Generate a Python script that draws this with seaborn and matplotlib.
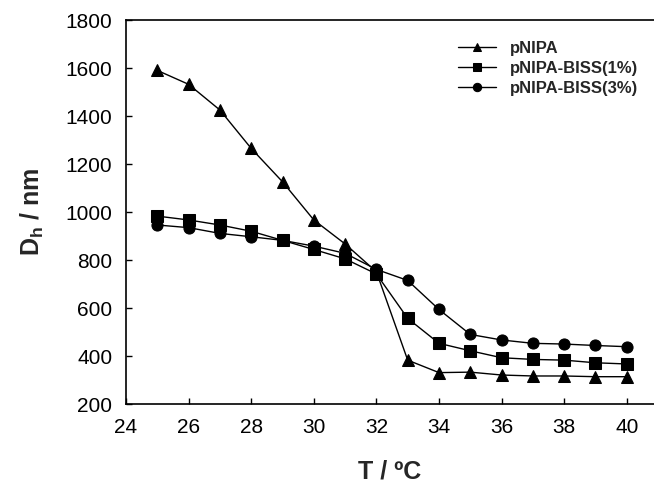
import matplotlib
matplotlib.use('Agg')
import matplotlib.pyplot as plt
import pandas as pd
import seaborn as sns

temps = [25, 26, 27, 28, 29, 30, 31, 32, 33, 34, 35, 36, 37, 38, 39, 40]
pnipa = [1590, 1532, 1425, 1265, 1126, 967, 867, 751, 383, 331, 333, 321, 317, 317, 314, 314]
biss1 = [983, 967, 946, 920, 882, 844, 805, 742, 557, 453, 422, 393, 386, 383, 372, 367]
biss3 = [946, 935, 911, 897, 882, 858, 828, 761, 715, 594, 490, 467, 453, 450, 444, 439]
names = ['pNIPA', 'pNIPA-BISS(1%)', 'pNIPA-BISS(3%)']
xticks = [24, 26, 28, 30, 32, 34, 36, 38, 40]
yticks = [200, 400, 600, 800, 1000, 1200, 1400, 1600, 1800]


def plots():
    sns.set_theme(style='ticks')
    plt.rcParams['font.family'] = ['Liberation Sans', 'DejaVu Sans']
    plt.rcParams['mathtext.fontset'] = 'custom'
    plt.rcParams['mathtext.rm'] = 'Liberation Sans'
    plt.rcParams['mathtext.bf'] = 'Liberation Sans:bold'

    df = pd.DataFrame({'T': temps * 3,
                       'Dh': pnipa + biss1 + biss3,
                       'sample': [n for n in names for _ in temps]})

    fig = plt.figure(figsize=(6.54, 4.88), dpi=100)
    ax = fig.add_axes([0.1927, 0.172, 0.8073, 0.787])

    # all three curves are black, only the markers tell them apart
    sns.lineplot(data=df, x='T', y='Dh', style='sample', markers=['^', 's', 'o'],
                 dashes=False, color='black', linewidth=1, markersize=8,
                 markeredgecolor='black', ax=ax)

    ax.set_xlim(24, 40.87)
    ax.set_ylim(200, 1800)
    ax.set_xticks(xticks)
    ax.set_yticks(yticks)
    ax.tick_params(direction='in', length=4, width=1, labelsize=15, colors='black', pad=10)
    ax.spines['right'].set_visible(False)
    for s in ['left', 'top', 'bottom']:
        ax.spines[s].set_linewidth(1.2)
        ax.spines[s].set_color('black')

    ax.set_xlabel('T / ºC', fontsize=18, fontweight='bold', labelpad=16)
    ax.set_ylabel(r'D$_{\mathbf{h}}$ / nm', fontsize=18, fontweight='bold', labelpad=14)

    leg = ax.legend(loc='upper left', bbox_to_anchor=(0.6, 0.985), frameon=False,
                    prop={'weight': 'bold', 'size': 12}, handlelength=2.3,
                    labelspacing=0.3, handletextpad=0.8)
    for h in leg.legend_handles:
        h.set_markersize(6)

    fig.savefig('out.png', dpi=100)


plots()
